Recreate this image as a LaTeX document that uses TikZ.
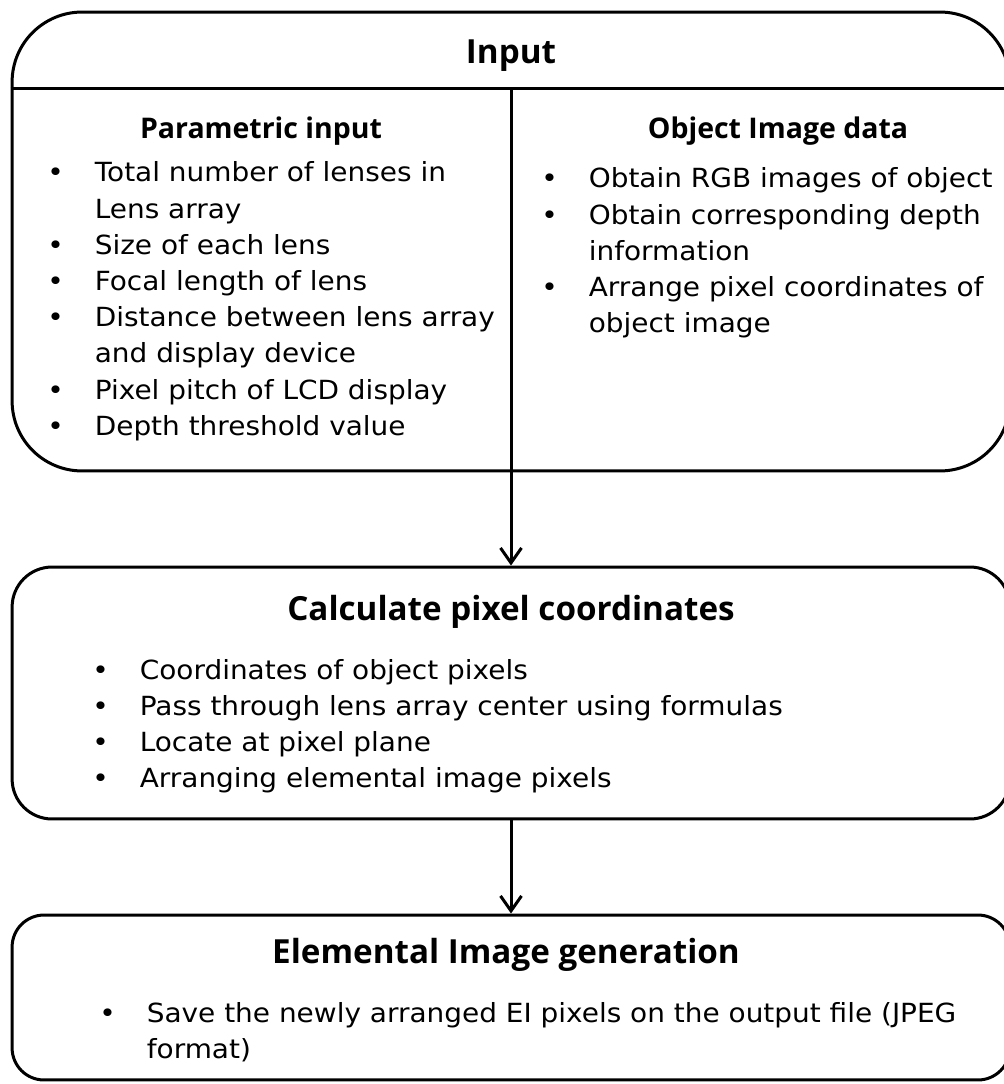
\documentclass[tikz,border=0pt]{standalone}
\usepackage{fontspec}
\setmainfont{DejaVu Sans}[FakeStretch=1.06]
\newfontfamily\headfont{Open Sans}
\usetikzlibrary{arrows.meta,positioning}

\begin{document}
\begin{tikzpicture}[
  x=0.02cm,y=-0.02cm,
  stage/.style={draw, line width=0.06cm, minimum width=19.96cm, inner sep=0pt},
  title/.style={font=\headfont\bfseries\fontsize{18.9}{22}\selectfont, anchor=base},
  subtitle/.style={font=\headfont\bfseries\fontsize{16.2}{20}\selectfont, anchor=base},
  items/.style={font=\fontsize{15}{20.6}\selectfont, anchor=base west, inner sep=0pt},
  arr/.style={-{Straight Barb[length=0.3cm,width=0.42cm,line width=0.06cm]}, line width=0.06cm}
]
\useasboundingbox (0,0) rectangle (1003,1084);
% the three stages
\node[stage, minimum height=9.18cm, rounded corners=1.4cm] (input) at (511,241.5) {};
\node[stage, minimum height=5.04cm, rounded corners=0.8cm] (calc) at (511,693) {};
\node[stage, minimum height=3.3cm, rounded corners=0.64cm] (egen) at (511,997.5) {};
\coordinate (hdr) at (0,89);
\draw[line width=0.06cm] (input.west |- hdr) -- (input.east |- hdr);
\draw[line width=0.06cm] (input.center |- hdr) -- (input.south);
% headings
\node[title] (intitle) at (511,64) {Input};
\node[subtitle] (partitle) at (261,139) {Parametric input};
\node[subtitle] (objtitle) at (778,139) {Object Image data};
\node[title] (calctitle) at (511,620) {Calculate pixel coordinates};
\node[title] (egentitle) at (506,963) {Elemental Image generation};
% bullet lists
\node[items] (parlist) at (47,182) {\begin{tabular}[t]{@{}l@{\hspace{0.62cm}}l@{}}
\textbullet & Total number of lenses in\\
 & Lens array\\
\textbullet & Size of each lens\\
\textbullet & Focal length of lens\\
\textbullet & Distance between lens array\\
 & and display device\\
\textbullet & Pixel pitch of LCD display\\
\textbullet & Depth threshold value
\end{tabular}};
\node[items] (objlist) at (541,188) {\begin{tabular}[t]{@{}l@{\hspace{0.62cm}}l@{}}
\textbullet & Obtain RGB images of object\\
\textbullet & Obtain corresponding depth\\
 & information\\
\textbullet & Arrange pixel coordinates of\\
 & object image
\end{tabular}};
\node[items] (calclist) at (92,679) {\begin{tabular}[t]{@{}l@{\hspace{0.62cm}}l@{}}
\textbullet & Coordinates of object pixels\\
\textbullet & Pass through lens array center using formulas\\
\textbullet & Locate at pixel plane\\
\textbullet & Arranging elemental image pixels
\end{tabular}};
\node[items] (egenlist) at (99,1022) {\begin{tabular}[t]{@{}l@{\hspace{0.62cm}}l@{}}
\textbullet & Save the newly arranged EI pixels on the output file (JPEG\\
 & format)
\end{tabular}};
% connectors
\draw[arr] (input.south) -- (calc.north);
\draw[arr] (calc.south) -- (egen.north);
\end{tikzpicture}
\end{document}
